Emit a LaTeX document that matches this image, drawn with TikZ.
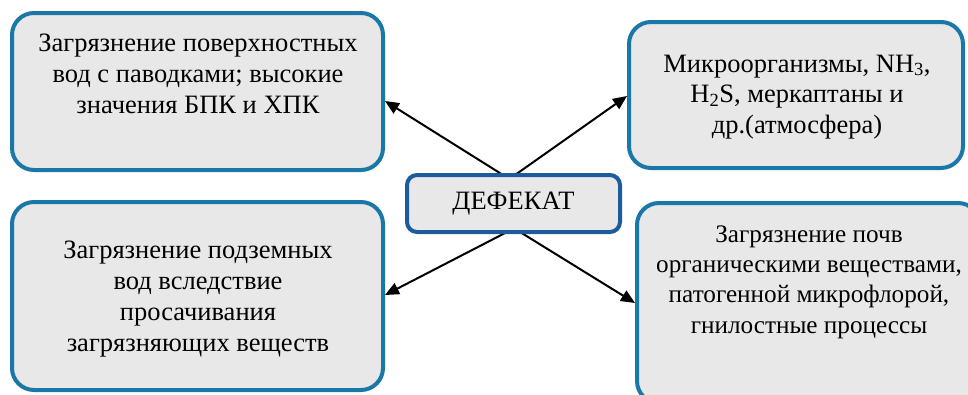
\documentclass[tikz,border=0pt]{standalone}
\usepackage{fontspec}
\setmainfont{Liberation Serif}
\newfontfamily\ruserif{Liberation Serif}
\usetikzlibrary{arrows.meta,calc}
\definecolor{boxblue}{HTML}{1A78A8}
\definecolor{centerblue}{HTML}{1D5C9C}
\definecolor{boxfill}{HTML}{E8E8E8}
\tikzset{
  outbox/.style={draw=boxblue, line width=4pt, fill=boxfill, rounded corners=22pt, inner sep=0pt},
  centerbox/.style={draw=centerblue, line width=4pt, fill=boxfill, rounded corners=10pt, inner sep=0pt},
  txt/.style={align=center, font=\ruserif\fontsize{26.5}{30.8}\selectfont, inner sep=0pt},
  smalltxt/.style={align=center, font=\ruserif\fontsize{25.2}{30.3}\selectfont, inner sep=0pt},
  arr/.style={-{Triangle[length=14pt,width=12pt]}, line width=2pt, black}
}
\begin{document}
\begin{tikzpicture}[x=1pt,y=-1pt]
\useasboundingbox (0,0) rectangle (968,394);
% boxes
\node[outbox, minimum width=371pt, minimum height=157pt] (tl) at (197.5,91.5) {};
\node[outbox, minimum width=334pt, minimum height=146pt] (tr) at (796,95) {};
\node[outbox, minimum width=371pt, minimum height=188pt] (bl) at (197.5,296) {};
\node[outbox, minimum width=343pt, minimum height=200pt] (br) at (808.5,303) {};
% arrows (behind center box)
\coordinate (s1) at (503,175);
\coordinate (s2) at (515,175);
\coordinate (s3) at (507,232);
\coordinate (s4) at (520,232);
\draw[arr] (s1) -- (tl.east |- 0,101);
\draw[arr] (s2) -- (tr.west |- 0,96);
\draw[arr] (s3) -- (bl.east |- 0,295);
\draw[arr] (s4) -- (br.west |- 0,303);
\node[centerbox, minimum width=213pt, minimum height=57pt] (c) at (513.5,203.5) {};
% texts
\node[txt] (ttl) at (198,74) {Загрязнение поверхностных\\вод с паводками; высокие\\значения БПК и ХПК};
\node[txt] (ttr) at (797,97) {Микроорганизмы, NH\textsubscript{3},\\H\textsubscript{2}S, меркаптаны и\\др.(атмосфера)};
\node[txt] (tc) at (513.5,203.5) {ДЕФЕКАТ};
\node[txt] (tbl) at (198,299) {Загрязнение подземных\\вод вследствие\\просачивания\\загрязняющих веществ};
\node[smalltxt] (tbr) at (809,282) {Загрязнение почв\\органическими веществами,\\патогенной микрофлорой,\\гнилостные процессы};
\end{tikzpicture}
\end{document}
